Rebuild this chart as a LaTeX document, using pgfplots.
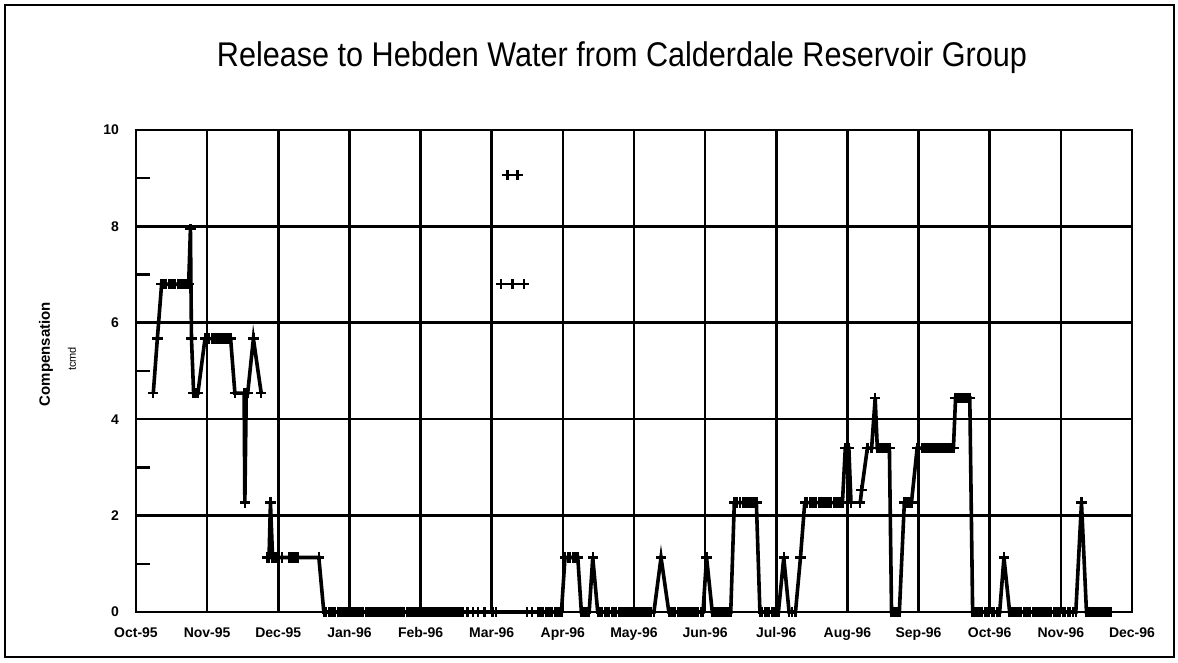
\documentclass[border=0pt]{standalone}
\usepackage{pgfplots}
\pgfplotsset{compat=1.18}
\usepackage{pgfplotstable}
\usepackage{fontspec}
\setmainfont{Liberation Sans}
\pgfplotstableread{
x y
0.243 4.54
0.30 5.67
0.36 6.80
0.39 6.80
0.42 6.80
0.46 6.80
0.49 6.80
0.52 6.80
0.55 6.80
0.59 6.80
0.62 6.80
0.65 6.80
0.68 6.80
0.71 6.80
0.74 6.80
0.765 7.94
0.78 5.67
0.81 4.54
0.84 4.54
0.87 4.54
0.97 5.67
1.00 5.67
1.03 5.67
1.07 5.67
1.10 5.67
1.13 5.67
1.17 5.67
1.20 5.67
1.23 5.67
1.27 5.67
1.30 5.67
1.33 5.67
1.39 4.54
1.52 4.54
1.53 2.27
1.55 4.54
1.57 4.54
1.65 5.67
1.76 4.54
1.80 nan
1.84 1.13
1.87 1.13
1.89 2.27
1.92 1.13
1.95 1.13
1.98 1.13
2.01 1.13
2.05 1.13
2.16 1.13
2.19 1.13
2.23 1.13
2.27 1.13
2.57 1.13
2.64 0
2.67 0
2.71 0
2.74 0
2.77 0
2.80 0
2.84 0
2.87 0
2.90 0
2.93 0
2.97 0
3.00 0
3.03 0
3.06 0
3.10 0
3.13 0
3.16 0
3.19 0
3.23 0
3.26 0
3.29 0
3.32 0
3.35 0
3.39 0
3.42 0
3.45 0
3.48 0
3.52 0
3.55 0
3.58 0
3.61 0
3.65 0
3.68 0
3.71 0
3.74 0
3.77 0
3.81 0
3.84 0
3.87 0
3.90 0
3.94 0
3.97 0
4.00 0
4.03 0
4.07 0
4.10 0
4.14 0
4.17 0
4.21 0
4.24 0
4.28 0
4.31 0
4.34 0
4.38 0
4.41 0
4.45 0
4.48 0
4.52 0
4.55 0
4.59 0
4.66 0
4.74 0
4.81 0
4.90 0
5.01 0
5.06 0
5.50 0
5.57 0
5.66 0
5.69 0
5.72 0
5.76 0
5.79 0
5.82 0
5.85 0
5.89 0
5.92 0
5.95 0
5.98 0
6.03 1.13
6.07 1.13
6.10 1.13
6.14 1.13
6.18 1.13
6.21 1.13
6.26 0
6.30 0
6.33 0
6.37 0
6.42 1.13
6.49 0
6.52 0
6.55 0
6.59 0
6.62 0
6.65 0
6.69 0
6.72 0
6.75 0
6.79 0
6.82 0
6.85 0
6.89 0
6.92 0
6.95 0
6.99 0
7.02 0
7.05 0
7.08 0
7.11 0
7.15 0
7.18 0
7.21 0
7.24 0
7.28 0
7.38 1.13
7.49 0
7.52 0
7.55 0
7.58 0
7.62 0
7.65 0
7.68 0
7.71 0
7.74 0
7.78 0
7.81 0
7.84 0
7.87 0
7.90 0
7.94 0
7.97 0
8.02 1.13
8.10 0
8.13 0
8.17 0
8.20 0
8.23 0
8.27 0
8.30 0
8.33 0
8.36 0
8.41 2.27
8.45 2.27
8.49 2.27
8.53 2.27
8.57 2.27
8.61 2.27
8.65 2.27
8.69 2.27
8.72 2.27
8.77 0
8.80 0
8.84 0
8.87 0
8.90 0
8.94 0
8.97 0
9.00 0
9.03 0
9.105 1.13
9.18 0
9.22 0
9.27 0
9.34 1.13
9.40 2.27
9.43 2.27
9.47 2.27
9.50 2.27
9.53 2.27
9.56 2.27
9.60 2.27
9.63 2.27
9.66 2.27
9.69 2.27
9.73 2.27
9.76 2.27
9.82 2.27
9.86 2.27
9.89 2.27
9.93 2.27
9.97 3.40
10.02 3.40
10.05 2.27
10.10 nan
10.18 2.27
10.20 2.53
10.28 3.40
10.34 3.40
10.39 4.44
10.42 3.40
10.45 3.40
10.49 3.40
10.52 3.40
10.56 3.40
10.59 3.40
10.62 0
10.65 0
10.69 0
10.73 0
10.80 2.27
10.84 2.27
10.87 2.27
10.90 2.27
10.98 3.40
11.01 3.40
11.05 3.40
11.08 3.40
11.11 3.40
11.15 3.40
11.18 3.40
11.21 3.40
11.25 3.40
11.28 3.40
11.31 3.40
11.35 3.40
11.38 3.40
11.41 3.40
11.45 3.40
11.49 3.40
11.52 4.44
11.55 4.44
11.59 4.44
11.62 4.44
11.65 4.44
11.69 4.44
11.72 4.44
11.76 0
11.79 0
11.83 0
11.86 0
11.89 0
11.93 0
11.96 0
11.99 0
12.03 0
12.06 0
12.10 0
12.14 0
12.20 1.13
12.28 0
12.31 0
12.35 0
12.38 0
12.41 0
12.44 0
12.48 0
12.51 0
12.54 0
12.57 0
12.61 0
12.64 0
12.67 0
12.70 0
12.73 0
12.77 0
12.80 0
12.83 0
12.86 0
12.90 0
12.93 0
12.96 0
12.99 0
13.03 0
13.06 0
13.10 0
13.13 0
13.17 0
13.21 0
13.29 2.27
13.36 0
13.39 0
13.43 0
13.46 0
13.49 0
13.53 0
13.56 0
13.59 0
13.63 0
13.66 0
13.70 0
}\release
\pgfplotstableread{
x y
5.13 6.80
5.29 6.80
5.45 6.80
}\marchlow
\pgfplotstableread{
x y
5.22 9.07
5.36 9.07
}\marchhigh
\begin{document}
\begin{tikzpicture}
\useasboundingbox (-68pt,-25.5pt) rectangle (521pt,306pt);
\draw[line width=0.8pt] (-65.5pt,-22.5pt) rectangle (519pt,303.5pt);
\begin{axis}[
  at={(0pt,0pt)}, anchor=south west, scale only axis,
  width=498pt, height=241pt,
  xmin=0, xmax=14, ymin=0, ymax=10,
  xtick={0,...,14},
  xticklabels={Oct-95,Nov-95,Dec-95,Jan-96,Feb-96,Mar-96,Apr-96,May-96,Jun-96,Jul-96,Aug-96,Sep-96,Oct-96,Nov-96,Dec-96},
  ytick={0,2,...,10},
  minor ytick={1,3,...,9},
  xmajorgrids, ymajorgrids,
  major grid style={black, line width=1.3pt},
  axis line style={black, line width=1.3pt},
  major tick length=0pt,
  minor tick length=7pt,
  tick align=inside,
  ytick pos=left, xtick pos=bottom,
  minor tick style={black, line width=1.2pt},
  tick label style={font=\fontsize{7}{8}\selectfont\bfseries},
  xticklabel style={yshift=-4pt, text height=5.2pt, text depth=1.2pt},
  yticklabel style={xshift=-5pt},
  /pgf/number format/assume math mode=true,
  unbounded coords=jump,
  clip=false,
]
\addplot[black, line width=1.8pt, mark=+, mark size=2.6pt, mark options={line width=1.2pt}] table[x=x,y=y]{\release};
\addplot[black, line width=1.1pt, mark=+, mark size=2.6pt, mark options={line width=1.2pt}] table[x=x,y=y]{\marchlow};
\addplot[black, line width=1.1pt, mark=+, mark size=2.6pt, mark options={line width=1.2pt}] table[x=x,y=y]{\marchhigh};
\end{axis}
\node[anchor=base] at (243pt,272.5pt) {\scalebox{1}[1.12]{\fontsize{15.3}{16}\selectfont Release to Hebden Water from Calderdale Reservoir Group}};
\node[rotate=90] at (-45pt,129pt) {\fontsize{7.5}{8}\selectfont\bfseries Compensation};
\node[rotate=90] at (-32pt,126.5pt) {\fontsize{5.5}{6}\selectfont tcmd};
\end{tikzpicture}
\end{document}
